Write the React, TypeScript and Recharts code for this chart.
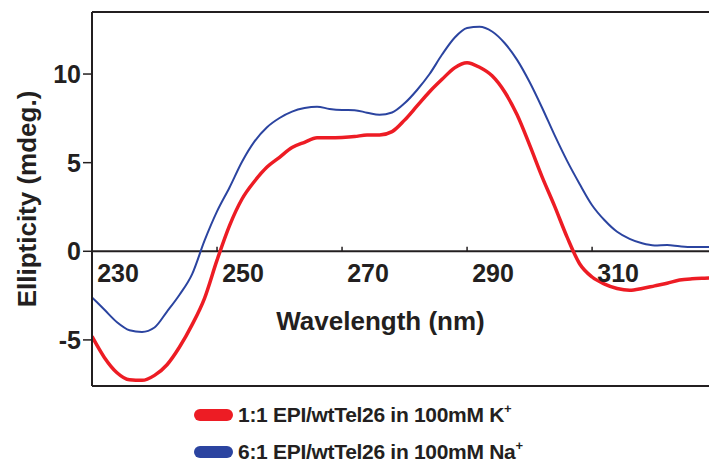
import React from 'react';
import { LineChart, Line, XAxis, YAxis, ReferenceLine } from 'recharts';

// wavelength grid (nm)
const wavelengths = [
    230, 232, 234, 236, 238, 240, 242, 244, 246, 248,
    250, 252, 254, 256, 258, 260, 262, 264, 266, 268,
    270, 272, 274, 276, 278, 280, 282, 284, 286, 288,
    290, 292, 294, 296, 298, 300, 302, 304, 306, 308,
    310, 312, 314, 316, 318, 320, 322, 324, 326, 328, 330
];

// 1:1 EPI/wtTel26, 100mM K+
const potassium = [
    -4.8, -6.0, -6.85, -7.25, -7.28, -7.0, -6.4, -5.4, -4.15, -2.65,
    -0.5, 1.45, 2.95, 3.95, 4.75, 5.3, 5.85, 6.15, 6.4, 6.4,
    6.42, 6.47, 6.56, 6.56, 6.75, 7.4, 8.2, 9.0, 9.7, 10.35,
    10.64, 10.38, 9.9, 9.0, 7.7, 6.0, 4.2, 2.55, 0.8, -0.7,
    -1.45, -1.85, -2.1, -2.2, -2.1, -1.95, -1.8, -1.62, -1.55, -1.52, -1.5
];

// 6:1 EPI/wtTel26, 100mM Na+
const sodium = [
    -2.6, -3.3, -4.0, -4.45, -4.55, -4.3, -3.4, -2.45, -1.3, 0.6,
    2.25, 3.6, 5.05, 6.2, 7.0, 7.52, 7.88, 8.08, 8.16, 8.03,
    7.97, 7.96, 7.82, 7.7, 7.83, 8.35, 9.1, 10.0, 11.1, 12.05,
    12.6, 12.67, 12.4, 11.75, 10.8, 9.55, 8.1, 6.55, 5.1, 3.8,
    2.6, 1.75, 1.1, 0.7, 0.45, 0.33, 0.35, 0.28, 0.24, 0.24, 0.24
];

const xTicks = [230, 250, 270, 290, 310];
const yTicks = [-5, 0, 5, 10];
const xDomain = [230, 328.7];
const yDomain = [-7.6, 13.5];

const legendItems = [
    { label: '1:1 EPI/wtTel26 in 100mM K', color: '#ed1c24' },
    { label: '6:1 EPI/wtTel26 in 100mM Na', color: '#2b44a0' }
];

const data = wavelengths.map((wl, i) => ({
    wl,
    k: potassium[i],
    na: sodium[i]
}));

const ink = '#231f20';
const font = '"Liberation Sans", Arial, sans-serif';

export default function App() {
    return (
        <div style={{ position: 'absolute', left: 0, top: 0, width: 709, height: 465, fontFamily: font }}>
            <LineChart
                width={709}
                height={465}
                data={data}
                margin={{ top: 11, right: 0, left: 12, bottom: 78 }}
            >
                <XAxis
                    dataKey="wl"
                    type="number"
                    domain={xDomain}
                    allowDataOverflow
                    ticks={xTicks}
                    tick={false}
                    tickLine={false}
                    height={1}
                    axisLine={{ stroke: ink, strokeWidth: 2 }}
                    label={{
                        value: 'Wavelength (nm)',
                        position: 'top',
                        offset: 56,
                        dx: -20,
                        style: { fontSize: 26, fontWeight: 700, fill: ink, fontFamily: font }
                    }}
                />
                <XAxis
                    xAxisId="top"
                    orientation="top"
                    dataKey="wl"
                    type="number"
                    domain={xDomain}
                    allowDataOverflow
                    tick={false}
                    tickLine={false}
                    height={1}
                    axisLine={{ stroke: ink, strokeWidth: 2 }}
                />
                <YAxis
                    type="number"
                    domain={yDomain}
                    allowDataOverflow
                    ticks={yTicks}
                    width={80}
                    tickSize={9}
                    tickMargin={2}
                    axisLine={{ stroke: ink, strokeWidth: 2 }}
                    tickLine={{ stroke: ink, strokeWidth: 1.5 }}
                    tick={{ fontSize: 25, fontWeight: 700, fill: ink, fontFamily: font }}
                    label={{
                        value: 'Ellipticity (mdeg.)',
                        angle: -90,
                        position: 'insideLeft',
                        offset: 15,
                        style: { textAnchor: 'middle', fontSize: 26, fontWeight: 700, fill: ink, fontFamily: font }
                    }}
                />
                <ReferenceLine y={0} stroke={ink} strokeWidth={2} />
                {xTicks.map(t => (
                    <ReferenceLine
                        key={t}
                        segment={[{ x: t, y: 0 }, { x: t, y: 0.25 }]}
                        stroke={ink}
                        strokeWidth={1.5}
                        label={{
                            value: String(t),
                            position: 'bottom',
                            offset: 13,
                            dx: 26,
                            style: { fontSize: 25, fontWeight: 700, fill: ink, fontFamily: font }
                        }}
                    />
                ))}
                <Line
                    type="monotone"
                    dataKey="na"
                    stroke="#2b44a0"
                    strokeWidth={2}
                    dot={false}
                    isAnimationActive={false}
                />
                <Line
                    type="monotone"
                    dataKey="k"
                    stroke="#ed1c24"
                    strokeWidth={3.5}
                    dot={false}
                    isAnimationActive={false}
                />
            </LineChart>
            {legendItems.map((item, i) => (
                <div
                    key={item.label}
                    style={{
                        position: 'absolute',
                        left: 194,
                        top: 401 + i * 37,
                        height: 28,
                        display: 'flex',
                        alignItems: 'center',
                        whiteSpace: 'nowrap'
                    }}
                >
                    <span
                        style={{
                            display: 'inline-block',
                            width: 39,
                            height: 12,
                            borderRadius: 6,
                            background: item.color,
                            marginRight: 5
                        }}
                    />
                    <span style={{ fontSize: 21, fontWeight: 700, color: ink, letterSpacing: -0.3 }}>
                        {item.label}
                        <sup style={{ fontSize: 13, verticalAlign: 'top', position: 'relative', top: -2 }}>+</sup>
                    </span>
                </div>
            ))}
        </div>
    );
}
